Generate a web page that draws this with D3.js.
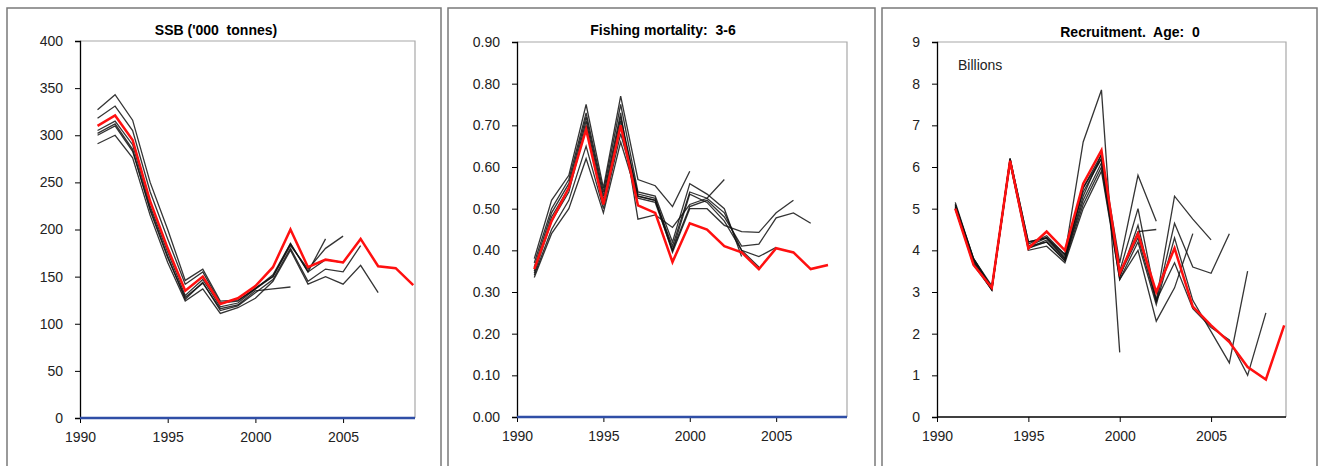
<!DOCTYPE html>
<html>
<head>
<meta charset="utf-8">
<script src="https://cdn.jsdelivr.net/npm/d3@7"></script>
<style>
  body { margin: 0; background: #fff; }
  svg { display: block; font-family: "Liberation Sans", Arial, sans-serif; }
  .tick text { fill: #222; font-size: 14px; }
  .title { font-weight: bold; font-size: 14px; white-space: pre; }
</style>
</head>
<body>
<svg width="1321" height="466"></svg>
<script>
// all series start in 1991
const firstYear = 1991;
const xTicks = [1990, 1995, 2000, 2005];

// SSB ('000 tonnes)
const ssbFinal = [310, 321, 295, 230, 180, 135, 150, 121, 127, 140, 160, 200, 160, 168, 165, 190, 161, 159, 141];
const ssbRuns = [
  [302, 312, 285, 220, 170, 128, 143, 116, 120, 135, 137, 139],
  [318, 331, 305, 240, 190, 142, 155, 122, 124, 138, 150, 185, 155, 190],
  [327, 343, 316, 250, 200, 146, 158, 124, 125, 137, 150, 183, 158, 180, 193],
  [305, 315, 290, 225, 176, 130, 147, 118, 122, 137, 152, 185, 155, 168, 165],
  [300, 310, 283, 222, 172, 126, 144, 114, 119, 133, 147, 180, 145, 158, 155, 183],
  [291, 300, 276, 215, 165, 124, 137, 111, 117, 127, 145, 178, 142, 150, 142, 162, 133]
];

// Fishing mortality 3-6
const fFinal = [0.355, 0.47, 0.55, 0.69, 0.51, 0.70, 0.508, 0.49, 0.372, 0.465, 0.45, 0.41, 0.395, 0.355, 0.405, 0.395, 0.355, 0.365];
const fRuns = [
  [0.38, 0.52, 0.58, 0.75, 0.55, 0.77, 0.57, 0.555, 0.505, 0.59],
  [0.36, 0.49, 0.56, 0.72, 0.53, 0.73, 0.475, 0.485, 0.455, 0.51, 0.525, 0.57],
  [0.37, 0.50, 0.57, 0.73, 0.54, 0.75, 0.54, 0.53, 0.42, 0.56, 0.535, 0.50, 0.385],
  [0.35, 0.48, 0.55, 0.71, 0.52, 0.72, 0.53, 0.52, 0.41, 0.54, 0.525, 0.49, 0.40, 0.36],
  [0.345, 0.47, 0.54, 0.70, 0.51, 0.71, 0.535, 0.525, 0.40, 0.535, 0.515, 0.47, 0.40, 0.385, 0.407],
  [0.34, 0.45, 0.52, 0.65, 0.50, 0.68, 0.53, 0.52, 0.395, 0.50, 0.50, 0.46, 0.445, 0.443, 0.49, 0.52],
  [0.335, 0.44, 0.50, 0.62, 0.49, 0.66, 0.525, 0.515, 0.40, 0.505, 0.52, 0.48, 0.41, 0.415, 0.478, 0.49, 0.465]
];

// Recruitment age 0 (billions)
const recFinal = [5.0, 3.65, 3.1, 6.15, 4.05, 4.45, 4.0, 5.6, 6.4, 3.45, 4.4, 3.0, 4.05, 2.65, 2.2, 1.8, 1.2, 0.9, 2.2];
const recRuns = [
  [5.15, 3.8, 3.1, 6.2, 4.2, 4.3, 3.9, 6.6, 7.85, 1.55],
  [5.1, 3.8, 3.15, 6.2, 4.2, 4.3, 3.85, 5.5, 6.3, 3.7, 5.8, 4.7],
  [5.05, 3.75, 3.1, 6.15, 4.15, 4.35, 3.9, 5.4, 6.2, 3.4, 4.45, 4.5],
  [5.0, 3.7, 3.05, 6.1, 4.0, 4.1, 3.7, 5.0, 5.9, 3.3, 4.0, 2.3, 3.1, 4.4],
  [5.1, 3.8, 3.1, 6.2, 4.1, 4.3, 3.8, 5.3, 6.3, 3.5, 5.0, 2.8, 5.3, 4.75, 4.25],
  [5.05, 3.75, 3.1, 6.15, 4.05, 4.25, 3.8, 5.2, 6.1, 3.35, 4.6, 2.75, 4.65, 3.6, 3.45, 4.4],
  [5.0, 3.7, 3.05, 6.1, 4.1, 4.2, 3.75, 5.1, 6.0, 3.3, 4.2, 2.7, 4.3, 2.8, 2.05, 1.3, 3.5],
  [5.0, 3.65, 3.05, 6.1, 4.05, 4.2, 3.75, 5.5, 6.2, 3.4, 4.3, 2.8, 3.7, 2.6, 2.15, 1.85, 1.0, 2.5]
];

const panels = [
  { title: "SSB ('000  tonnes)", final: ssbFinal, runs: ssbRuns, yMax: 400, yStep: 50, fmt: d3.format('d'),
    box: [7, 8, 441, 480], plot: { l: 80, t: 41, r: 415, b: 418 }, titleX: 216, titleY: 35, zeroLine: true },
  { title: 'Fishing mortality:  3-6', final: fFinal, runs: fRuns, yMax: 0.9, yStep: 0.1, fmt: d3.format('.2f'),
    box: [448, 8, 875, 480], plot: { l: 517, t: 42, r: 847, b: 417 }, titleX: 663, titleY: 35, zeroLine: true },
  { title: 'Recruitment.  Age:  0', final: recFinal, runs: recRuns, yMax: 9, yStep: 1, fmt: d3.format('d'),
    box: [882, 8, 1317, 480], plot: { l: 937, t: 42, r: 1286, b: 417 }, titleX: 1130, titleY: 37, zeroLine: false,
    note: 'Billions' }
];

const svg = d3.select('svg');

panels.forEach((p) => {
  const g = svg.append('g');
  const [bx0, by0, bx1, by1] = p.box;
  g.append('rect')
    .attr('x', bx0).attr('y', by0)
    .attr('width', bx1 - bx0).attr('height', by1 - by0)
    .attr('fill', 'none').attr('stroke', '#7a7a7a').attr('stroke-width', 1.5);

  const x = d3.scaleLinear().domain([1990, 2009.1]).range([p.plot.l, p.plot.r]);
  const y = d3.scaleLinear().domain([0, p.yMax]).range([p.plot.b, p.plot.t]);

  // plot area frame (top and right in grey)
  g.append('path')
    .attr('d', `M${p.plot.l},${p.plot.t}H${p.plot.r}V${p.plot.b}`)
    .attr('fill', 'none').attr('stroke', '#a8a8a8').attr('stroke-width', 1.2);

  const yTicks = d3.range(0, p.yMax + p.yStep / 2, p.yStep);
  const yAxis = g.append('g')
    .attr('transform', `translate(${p.plot.l},0)`)
    .call(d3.axisLeft(y).tickValues(yTicks).tickFormat(p.fmt).tickSize(5).tickPadding(12));
  yAxis.select('.domain').attr('stroke', '#000').attr('stroke-width', 1.3);
  yAxis.selectAll('.tick line').attr('stroke', '#000');

  const xAxis = g.append('g')
    .attr('transform', `translate(0,${p.plot.b})`)
    .call(d3.axisBottom(x).tickValues(xTicks).tickFormat(d3.format('d')).tickSize(5).tickPadding(12));
  xAxis.select('.domain').attr('stroke', '#000').attr('stroke-width', 1.3)
    .attr('d', `M${p.plot.l},0H${p.plot.r}`);
  xAxis.selectAll('.tick line').attr('stroke', '#000');
  xAxis.selectAll('.tick text').attr('dy', '0.5em');

  g.append('text')
    .attr('class', 'title')
    .attr('x', p.titleX).attr('y', p.titleY)
    .attr('text-anchor', 'middle')
    .text(p.title);

  if (p.note) {
    g.append('text')
      .attr('x', p.plot.l + 21).attr('y', 70)
      .attr('font-size', 14).attr('fill', '#222')
      .text(p.note);
  }

  const line = d3.line()
    .x((d, i) => x(firstYear + i))
    .y((d) => y(d));

  if (p.zeroLine) {
    g.append('path')
      .attr('d', d3.line().x((d) => x(d)).y(() => y(0))([1990, 2009.1]))
      .attr('fill', 'none').attr('stroke', '#2f4ea6').attr('stroke-width', 2.4);
  }

  p.runs.forEach((run) => {
    g.append('path')
      .attr('d', line(run))
      .attr('fill', 'none')
      .attr('stroke', '#111')
      .attr('stroke-opacity', 0.85)
      .attr('stroke-width', 1.3);
  });

  g.append('path')
    .attr('d', line(p.final))
    .attr('fill', 'none')
    .attr('stroke', '#ff1010')
    .attr('stroke-width', 2.5);
});
</script>
</body>
</html>
